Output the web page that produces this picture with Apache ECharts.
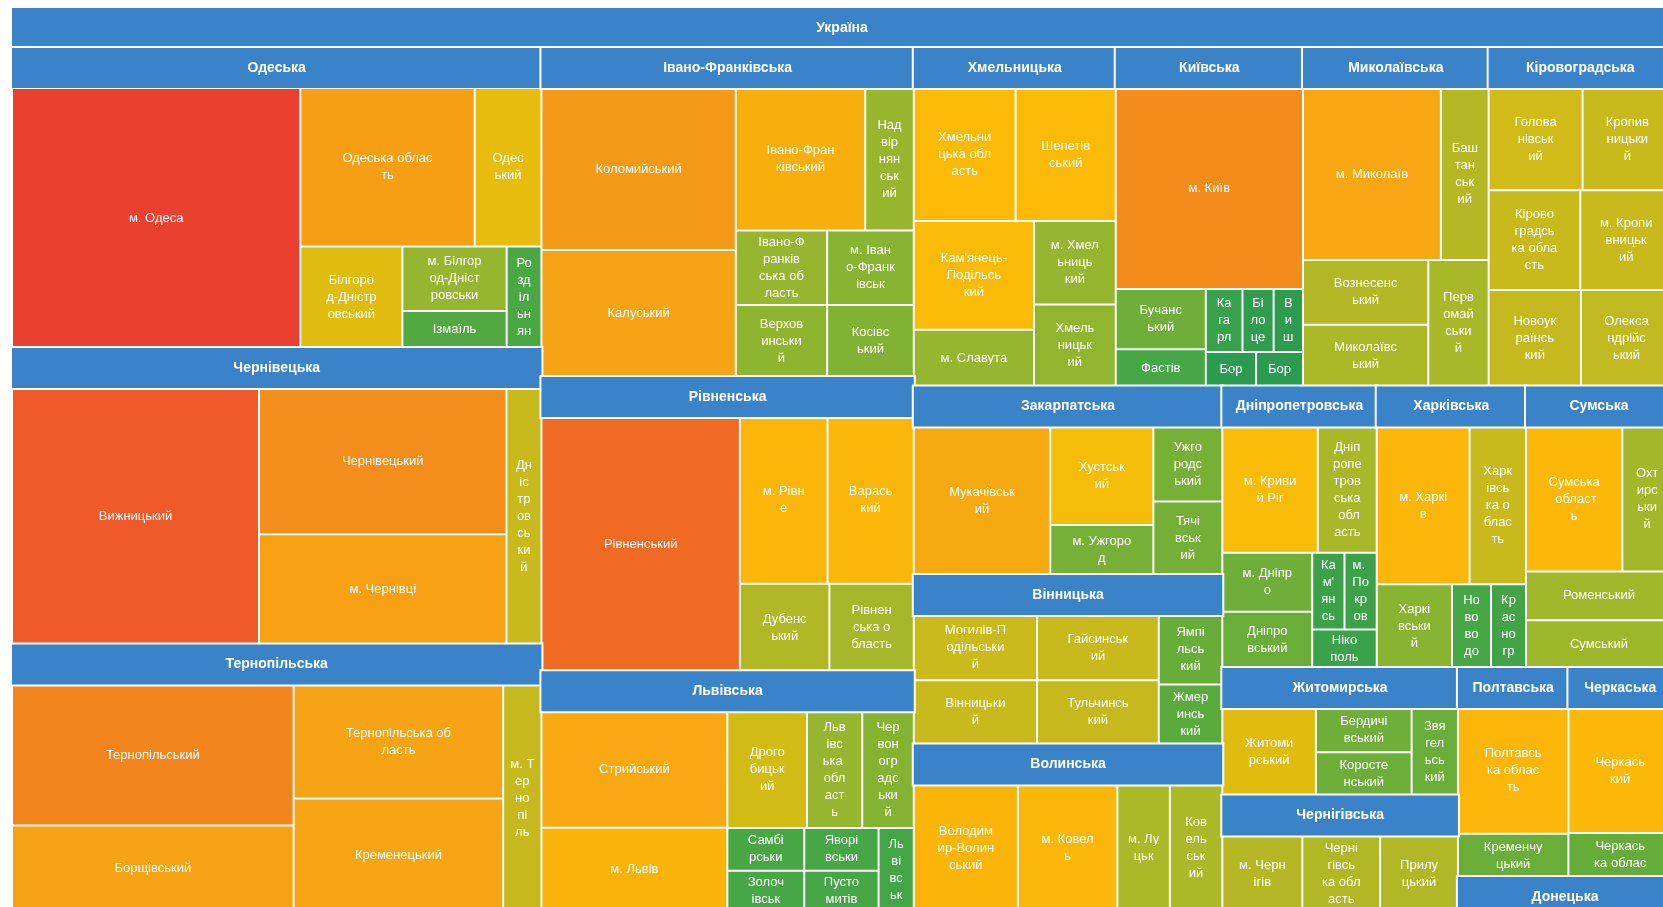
<!DOCTYPE html>
<html lang="uk">
<head>
    <meta charset="UTF-8">
    <title>Україна</title>
    <script src="https://cdn.jsdelivr.net/npm/echarts/dist/echarts.min.js"></script>
    <style>
        html, body {
            margin: 0;
            padding: 0;
            background: #fff;
            overflow: hidden;
        }
        #main {
            width: 1680px;
            height: 920px;
        }
    </style>
</head>
<body>
<div id="main"></div>
<script>
    // області (порядок як на картинці)
    var oblastNames = ['Одеська', 'Чернівецька', 'Тернопільська', 'Івано-Франківська', 'Рівненська',
        'Львівська', 'Хмельницька', 'Закарпатська', 'Київська', 'Кіровоградська',
        'Миколаївська', 'Вінницька', 'Волинська', 'Дніпропетровська', 'Сумська',
        'Житомирська', 'Харківська', 'Черкаська', 'Чернігівська', 'Полтавська', 'Донецька'];

    var odeskaNames = ['м. Одеса', 'Одеська область', 'Одеський', 'Білгород-Дністровський',
        'м. Білгород-Дністровський', 'Ізмаїльський', 'Роздільнянський'];
    var odeskaValues = [659, 243, 93, 91, 59, 34, 31];

    var chernivetskaNames = ['Вижницький', 'Чернівецький', 'м. Чернівці', 'Дністровський'];
    var chernivetskaValues = [558, 319, 240, 79];

    var ternopilskaNames = ['Тернопільський', 'Борщівський', 'Тернопільська область', 'Кременецький', 'м. Тернопіль'];
    var ternopilskaValues = [356, 218, 214, 213, 78];

    var ivanoNames = ['Коломийський', 'Калуський', 'Івано-Франківський', 'Надвірнянський',
        'Івано-Франківська область', 'Верховинський', 'м. Івано-Франківськ', 'Косівський'];
    var ivanoValues = [273, 214, 160, 60, 59, 57, 56, 54];

    var rivnenskaNames = ['Рівненський', 'м. Рівне', 'Вараський', 'Дубенський', 'Рівненська область'];
    var rivnenskaValues = [445, 129, 127, 69, 65];

    var lvivskaNames = ['Стрийський', 'м. Львів', 'Дрогобицький', 'Львівська область', 'Червоноградський',
        'Самбірський', 'Яворівський', 'Золочівський', 'Пустомитівський', 'Львівський'];
    var lvivskaValues = [198, 143, 85, 59, 55, 30, 29, 29, 28, 27];

    var khmelnytskaNames = ['Хмельницька область', 'Шепетівський', "Кам'янець-Подільський",
        'м. Хмельницький', 'м. Славута', 'Хмельницький'];
    var khmelnytskaValues = [117, 115, 113, 59, 59, 58];

    var zakarpatskaNames = ['Мукачівський', 'Хустський', 'Ужгородський', 'м. Ужгород', 'Тячівський'];
    var zakarpatskaValues = [196, 98, 50, 50, 49];

    var kyivskaNames = ['м. Київ', 'Бучанський', 'Фастівський', 'Кагарлицький', 'Білоцерківський',
        'Вишгородський', 'Бориспільський', 'Бородянський'];
    var kyivskaValues = [325, 47, 29, 20, 17, 16, 15, 14];

    var kirovohradskaNames = ['Голованівський', 'м. Кропивницький', 'Кіровоградська область',
        'Кропивницький', 'Новоукраїнський', 'Олександрійський'];
    var kirovohradskaValues = [83, 79, 79, 79, 77, 76];

    var mykolaivskaNames = ['м. Миколаїв', 'Баштанський', 'Вознесенський', 'Миколаївський', 'Первомайський'];
    var mykolaivskaValues = [205, 71, 70, 67, 66];

    var vinnytskaNames = ['Могилів-Подільський', 'Гайсинський', 'Вінницький', 'Тульчинський',
        'Ямпільський', 'Жмеринський'];
    var vinnytskaValues = [80, 79, 79, 78, 44, 38];

    var volynskaNames = ['Володимир-Волинський', 'м. Ковель', 'Ковельський', 'м. Луцьк'];
    var volynskaValues = [133, 127, 67, 67];

    var dniproNames = ['м. Кривий Ріг', 'Дніпропетровська область', 'м. Дніпро', 'Дніпровський',
        'Нікопольський', 'м. Покров', "Кам'янський"];
    var dniproValues = [107, 66, 47, 45, 22, 22, 22];

    var sumskaNames = ['Сумська область', 'Охтирський', 'Роменський', 'Сумський'];
    var sumskaValues = [124, 64, 63, 62];

    var zhytomyrskaNames = ['Житомирський', 'Бердичівський', 'Коростенський', 'Звягельський'];
    var zhytomyrskaValues = [91, 47, 46, 45];

    var kharkivskaNames = ['м. Харків', 'Харківська область', 'Харківський', 'Нововодолазький', 'Красноградський'];
    var kharkivskaValues = [130, 79, 56, 29, 26];

    var cherkaskaNames = ['Черкаський', 'Черкаська область'];
    var cherkaskaValues = [122, 43];

    var chernihivskaNames = ['м. Чернігів', 'Прилуцький', 'Чернігівська область'];
    var chernihivskaValues = [71, 69, 69];

    var poltavskaNames = ['Полтавська область', 'Кременчуцький'];
    var poltavskaValues = [131, 45];

    var donetskaNames = ['Краматорський'];
    var donetskaValues = [57];

    var districtNames = [odeskaNames, chernivetskaNames, ternopilskaNames, ivanoNames, rivnenskaNames,
        lvivskaNames, khmelnytskaNames, zakarpatskaNames, kyivskaNames, kirovohradskaNames,
        mykolaivskaNames, vinnytskaNames, volynskaNames, dniproNames, sumskaNames,
        zhytomyrskaNames, kharkivskaNames, cherkaskaNames, chernihivskaNames, poltavskaNames, donetskaNames];
    var districtValues = [odeskaValues, chernivetskaValues, ternopilskaValues, ivanoValues, rivnenskaValues,
        lvivskaValues, khmelnytskaValues, zakarpatskaValues, kyivskaValues, kirovohradskaValues,
        mykolaivskaValues, vinnytskaValues, volynskaValues, dniproValues, sumskaValues,
        zhytomyrskaValues, kharkivskaValues, cherkaskaValues, chernihivskaValues, poltavskaValues, donetskaValues];

    // шкала кольорів: зелений (мало) -> жовтий -> червоний (багато)
    var colorStops = [
        [15, '#2b9b50'], [20, '#38a14b'], [30, '#49a645'], [40, '#5fab3c'], [47, '#6fae38'],
        [55, '#84b332'], [59, '#95b62e'], [67, '#abb827'], [78, '#c6b91e'], [88, '#d9bc13'],
        [98, '#f5bc08'], [115, '#fbba08'], [130, '#fbb609'], [145, '#f9b30b'], [165, '#f8ae0e'],
        [200, '#f7a812'], [215, '#f6a415'], [240, '#f7a014'], [273, '#f59a18'], [320, '#f38d1b'],
        [356, '#f2851d'], [445, '#ef6a22'], [558, '#ee5a2a'], [659, '#e9402f']
    ];

    function hexToRgb(h) {
        return [parseInt(h.substr(1, 2), 16), parseInt(h.substr(3, 2), 16), parseInt(h.substr(5, 2), 16)];
    }

    function valueColor(v) {
        if (v <= colorStops[0][0]) return colorStops[0][1];
        for (var i = 1; i < colorStops.length; i++) {
            if (v <= colorStops[i][0]) {
                var a = colorStops[i - 1], b = colorStops[i];
                var t = (v - a[0]) / (b[0] - a[0]);
                var ca = hexToRgb(a[1]), cb = hexToRgb(b[1]);
                var c = ca.map(function (x, k) { return Math.round(x + (cb[k] - x) * t); });
                return 'rgb(' + c.join(',') + ')';
            }
        }
        return colorStops[colorStops.length - 1][1];
    }

    var oblastNodes = oblastNames.map(function (ob, i) {
        return {
            name: ob,
            children: districtNames[i].map(function (n, j) {
                var v = districtValues[i][j];
                return {name: n, value: v, itemStyle: {color: valueColor(v)}};
            })
        };
    });

    var font = "'Liberation Sans', Arial, sans-serif";
    var myChart = echarts.init(document.getElementById('main'));

    var option = {
        animation: false,
        series: [{
            type: 'treemap',
            left: 12,
            top: 8,
            width: 1660,
            height: 904,
            roam: false,
            nodeClick: false,
            breadcrumb: {show: false},
            visibleMin: 0,
            drillDownIcon: '',
            label: {
                show: true,
                position: 'inside',
                color: '#fff',
                fontSize: 13,
                lineHeight: 17,
                fontFamily: font,
                padding: 1,
                overflow: 'breakAll'
            },
            upperLabel: {
                show: true,
                height: 40,
                position: 'inside',
                color: '#fff',
                fontSize: 14,
                fontWeight: 'bold',
                fontFamily: font,
                backgroundColor: '#3b83c9',
                borderColor: '#fff',
                borderWidth: 2
            },
            itemStyle: {
                borderColor: '#fff',
                borderWidth: 0,
                gapWidth: 0
            },
            levels: [
                {itemStyle: {borderWidth: 0, gapWidth: 0}, upperLabel: {show: false}},
                {upperLabel: {show: true, height: 40}},
                {upperLabel: {show: true, height: 40}},
                {itemStyle: {borderWidth: 1, borderColor: '#fff'}}
            ],
            data: [{name: 'Україна', children: oblastNodes}]
        }]
    };

    myChart.setOption(option);
</script>
</body>
</html>
